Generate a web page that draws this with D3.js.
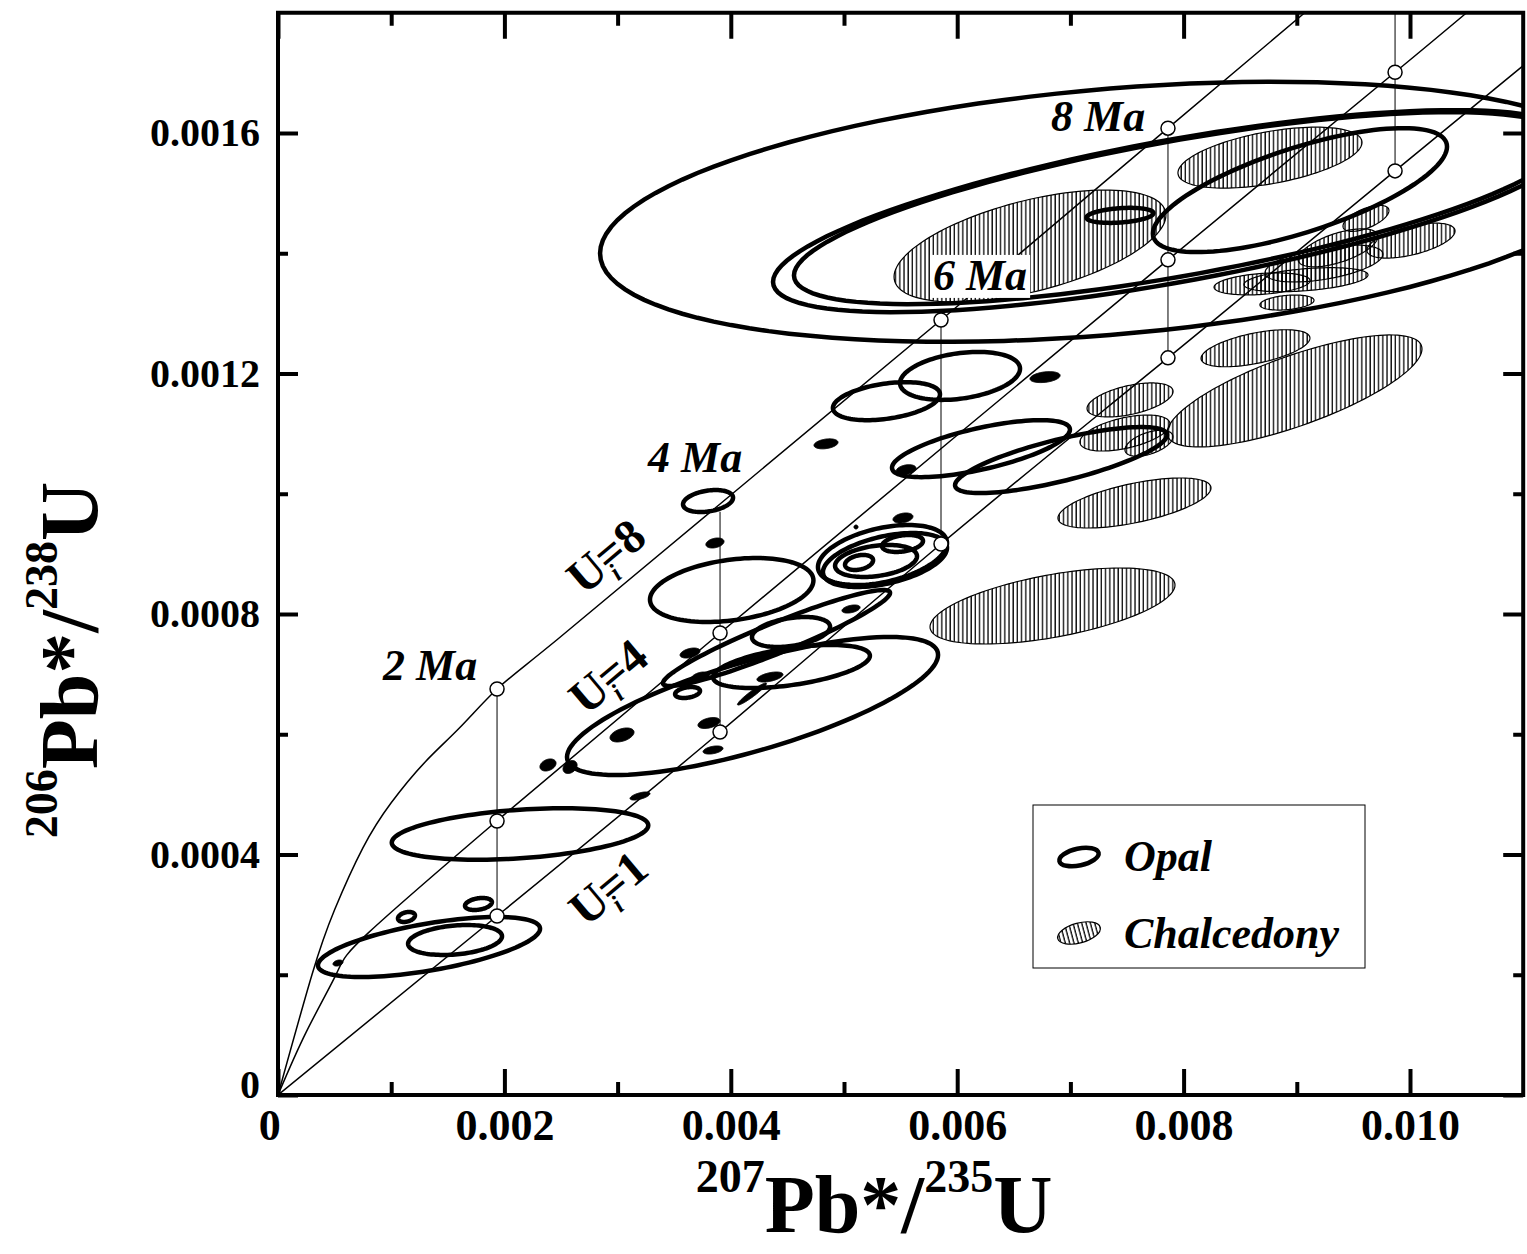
<!DOCTYPE html>
<html lang="en">
<head>
<meta charset="UTF-8">
<title>Pb*/U concordia - opal and chalcedony</title>
<script src="https://cdn.jsdelivr.net/npm/d3@7"></script>
<style>
    body { margin: 0; background: #fff; }
    svg { display: block; font-family: "Liberation Serif", "Times New Roman", serif; font-weight: bold; }
    .frame { fill: none; stroke: #000; stroke-width: 4; }
    .ui-line { fill: none; stroke: #000; stroke-width: 1.5; }
    .age-line { stroke: #000; stroke-width: 1; }
    .opal { fill: none; stroke: #000; stroke-width: 4.5; }
    .dot { fill: #000; stroke: #000; stroke-width: 1; }
    .chalc { fill: url(#hatch); stroke: #000; stroke-width: 1.2; }
    .marker { fill: #fff; stroke: #000; stroke-width: 1.5; }
    .lab { font-style: italic; font-size: 44px; }
</style>
</head>
<body>
<script>
    const width = 1527;
    const height = 1254;

    // tick values and their labels
    const xMajor = [0, 0.002, 0.004, 0.006, 0.008, 0.010];
    const xTickLabels = ["0", "0.002", "0.004", "0.006", "0.008", "0.010"];
    const xMinor = [0.001, 0.003, 0.005, 0.007, 0.009];
    const yMajor = [0, 0.0004, 0.0008, 0.0012, 0.0016];
    const yTickLabels = ["0", "0.0004", "0.0008", "0.0012", "0.0016"];
    const yMinor = [0.0002, 0.0006, 0.0010, 0.0014];

    // growth curves for initial (234U/238U) = 8, 4 and 1
    const u8X = [0, 0.30e-3, 0.50e-3, 0.75e-3, 1.0e-3, 1.3e-3, 1.6e-3, 1.935e-3, 2.462e-3, 3.905e-3, 5.857e-3, 7.862e-3, 9.07e-3];
    const u8Y = [0, 2.0e-4, 3.08e-4, 4.11e-4, 4.86e-4, 5.54e-4, 6.10e-4, 6.753e-4, 7.568e-4, 9.83e-4, 1.289e-3, 1.608e-3, 1.80e-3];
    const u4X = [0, 0.25e-3, 0.518e-3, 0.80e-3, 1.932e-3, 3.905e-3, 7.862e-3, 9.868e-3, 10.5e-3];
    const u4Y = [0, 1.05e-4, 2.024e-4, 2.70e-4, 4.557e-4, 7.684e-4, 1.389e-3, 1.701e-3, 1.80e-3];
    const u1X = [0, 1.935e-3, 3.905e-3, 5.857e-3, 7.862e-3, 9.868e-3, 11.0e-3];
    const u1Y = [0, 2.977e-4, 6.037e-4, 9.164e-4, 1.226e-3, 1.537e-3, 1.712e-3];

    // age marks (Ma) on the curves; null = hidden or off the plot
    const ages = [2, 4, 6, 8, 10];
    const ageX = [1.935e-3, 3.905e-3, 5.857e-3, 7.862e-3, 9.868e-3];
    const markU8 = [6.753e-4, null, 1.289e-3, 1.608e-3, null];
    const markU4 = [4.557e-4, 7.684e-4, null, 1.389e-3, 1.701e-3];
    const markU1 = [2.977e-4, 6.037e-4, 9.164e-4, 1.226e-3, 1.537e-3];
    const tieTop = [6.753e-4, 9.70e-4, 1.289e-3, 1.608e-3, 1.80e-3];

    // error ellipses: [207/235 centre, 206/238 centre, half-width x, half-height y, correlation]
    const opal = [
        [7.350e-3, 1.469e-3, 4.505e-3, 2.162e-4, 0.32],
        [7.915e-3, 1.470e-3, 3.542e-3, 1.680e-4, 0.70],
        [7.968e-3, 1.475e-3, 3.410e-3, 1.597e-4, 0.70],
        [9.028e-3, 1.505e-3, 1.299e-3, 1.031e-4, 0.70],
        [7.438e-3, 1.463e-3, 0.296e-3, 0.125e-4, 0.30],
        [6.025e-3, 1.196e-3, 0.530e-3, 0.399e-4, 0.30],
        [5.375e-3, 1.154e-3, 0.473e-3, 0.316e-4, 0.36],
        [6.210e-3, 1.075e-3, 0.786e-3, 0.474e-4, 0.67],
        [6.917e-3, 1.056e-3, 0.936e-3, 0.549e-4, 0.76],
        [3.799e-3, 9.879e-4, 0.221e-3, 0.183e-4, 0.30],
        [5.340e-3, 8.981e-4, 0.570e-3, 0.499e-4, 0.40],
        [5.362e-3, 8.898e-4, 0.548e-3, 0.449e-4, 0.45],
        [5.283e-3, 8.882e-4, 0.362e-3, 0.266e-4, 0.30],
        [5.133e-3, 8.857e-4, 0.124e-3, 0.125e-4, 0.30],
        [5.517e-3, 9.173e-4, 0.181e-3, 0.141e-4, 0.30],
        [4.008e-3, 8.399e-4, 0.722e-3, 0.532e-4, 0.30],
        [4.532e-3, 7.701e-4, 0.345e-3, 0.249e-4, 0.35],
        [4.536e-3, 7.127e-4, 0.693e-3, 0.358e-4, 0.50],
        [4.404e-3, 7.601e-4, 1.003e-3, 0.798e-4, 0.94],
        [4.192e-3, 6.470e-4, 1.639e-3, 1.148e-4, 0.74],
        [2.138e-3, 4.341e-4, 1.133e-3, 0.429e-4, 0.335],
        [1.334e-3, 2.462e-4, 0.981e-3, 0.499e-4, 0.61],
        [1.564e-3, 2.578e-4, 0.415e-3, 0.249e-4, 0.25],
        [1.771e-3, 3.177e-4, 0.119e-3, 0.100e-4, 0.30],
        [1.135e-3, 2.961e-4, 0.075e-3, 0.083e-4, 0.30],
        [3.618e-3, 6.694e-4, 0.110e-3, 0.091e-4, 0.30]
    ];
    // very small opal ellipses, drawn filled
    const opalDots = [
        [0.530e-3, 2.195e-4, 0.044e-3, 0.050e-4, 0.3],
        [2.385e-3, 5.489e-4, 0.071e-3, 0.100e-4, 0.3],
        [2.580e-3, 5.455e-4, 0.062e-3, 0.108e-4, 0.3],
        [3.039e-3, 5.988e-4, 0.106e-3, 0.116e-4, 0.4],
        [3.198e-3, 4.973e-4, 0.088e-3, 0.067e-4, 0.6],
        [3.640e-3, 7.351e-4, 0.088e-3, 0.083e-4, 0.4],
        [3.728e-3, 6.952e-4, 0.080e-3, 0.083e-4, 0.4],
        [4.346e-3, 6.952e-4, 0.115e-3, 0.083e-4, 0.5],
        [4.187e-3, 6.669e-4, 0.128e-3, 0.183e-4, 0.95],
        [3.807e-3, 6.187e-4, 0.097e-3, 0.091e-4, 0.4],
        [3.843e-3, 5.738e-4, 0.088e-3, 0.067e-4, 0.4],
        [3.860e-3, 9.181e-4, 0.080e-3, 0.083e-4, 0.3],
        [5.521e-3, 9.597e-4, 0.088e-3, 0.083e-4, 0.3],
        [5.062e-3, 8.083e-4, 0.080e-3, 0.067e-4, 0.4],
        [4.841e-3, 1.083e-3, 0.106e-3, 0.083e-4, 0.3],
        [6.776e-3, 1.194e-3, 0.133e-3, 0.091e-4, 0.3],
        [5.548e-3, 1.040e-3, 0.088e-3, 0.083e-4, 0.3],
        [5.106e-3, 9.447e-4, 0.018e-3, 0.033e-4, 0.0]
    ];
    const chalcedony = [
        [8.763e-3, 1.559e-3, 0.813e-3, 0.507e-4, 0.50],
        [6.643e-3, 1.412e-3, 1.201e-3, 0.931e-4, 0.55],
        [8.635e-3, 1.242e-3, 0.481e-3, 0.308e-4, 0.55],
        [8.980e-3, 1.171e-3, 1.126e-3, 0.931e-4, 0.75],
        [7.527e-3, 1.156e-3, 0.380e-3, 0.283e-4, 0.50],
        [7.482e-3, 1.101e-3, 0.398e-3, 0.299e-4, 0.50],
        [7.694e-3, 1.084e-3, 0.212e-3, 0.216e-4, 0.50],
        [7.566e-3, 9.846e-4, 0.676e-3, 0.416e-4, 0.60],
        [6.842e-3, 8.133e-4, 1.082e-3, 0.632e-4, 0.55],
        [8.693e-3, 1.349e-3, 0.424e-3, 0.183e-4, 0.30],
        [9.081e-3, 1.356e-3, 0.548e-3, 0.200e-4, 0.40],
        [9.240e-3, 1.383e-3, 0.521e-3, 0.308e-4, 0.50],
        [8.913e-3, 1.318e-3, 0.239e-3, 0.125e-4, 0.30],
        [9.364e-3, 1.409e-3, 0.353e-3, 0.316e-4, 0.60],
        [10.009e-3, 1.421e-3, 0.389e-3, 0.291e-4, 0.55],
        [9.611e-3, 1.458e-3, 0.203e-3, 0.216e-4, 0.60]
    ];

    // text annotations (anchored in data coordinates)
    const ageLabelText = ["2 Ma", "4 Ma", "6 Ma", "8 Ma"];
    const ageLabelX = [0.928e-3, 3.269e-3, 5.786e-3, 6.829e-3];
    const ageLabelY = [6.90e-4, 1.036e-3, 1.339e-3, 1.603e-3];
    const uiNames = ["8", "4", "1"];
    const uiLabelX = [2.700e-3, 2.720e-3, 2.720e-3];
    const uiLabelY = [8.30e-4, 6.30e-4, 2.78e-4];

    const x = d3.scaleLinear().domain([0, 0.011]).range([278, 1523.2]);
    const y = d3.scaleLinear().domain([0, 0.0018]).range([1095, 12.75]);

    const svg = d3.select("body").append("svg")
            .attr("width", width).attr("height", height);

    const defs = svg.append("defs");
    defs.append("clipPath").attr("id", "plot").append("rect")
        .attr("x", x(0)).attr("y", y(0.0018))
        .attr("width", x(0.011) - x(0)).attr("height", y(0) - y(0.0018));
    const hatch = defs.append("pattern").attr("id", "hatch")
        .attr("patternUnits", "userSpaceOnUse").attr("width", 4.2).attr("height", 8);
    hatch.append("line").attr("x1", 1).attr("x2", 1).attr("y1", 0).attr("y2", 8)
        .attr("stroke", "#000").attr("stroke-width", 1.3);

    const plot = svg.append("g").attr("clip-path", "url(#plot)");

    // Ui curves
    const curve = d3.line().x(d => x(d[0])).y(d => y(d[1])).curve(d3.curveNatural);
    [[u8X, u8Y], [u4X, u4Y], [u1X, u1Y]].forEach(([xs, ys]) => {
        plot.append("path").attr("class", "ui-line").attr("d", curve(d3.zip(xs, ys)));
    });

    // ellipse outline from centre, half-extents and correlation
    const ring = d3.line().x(d => x(d[0])).y(d => y(d[1])).curve(d3.curveLinearClosed);
    function outline([cx, cy, hx, hy, r]) {
        const s = Math.sqrt(1 - r * r);
        return d3.range(120).map(i => {
            const t = i / 120 * 2 * Math.PI;
            return [cx + hx * Math.cos(t), cy + hy * (r * Math.cos(t) + s * Math.sin(t))];
        });
    }

    plot.selectAll("path.chalc").data(chalcedony).join("path")
        .attr("class", "chalc").attr("d", d => ring(outline(d)));
    plot.selectAll("path.opal").data(opal).join("path")
        .attr("class", "opal").attr("d", d => ring(outline(d)));
    plot.selectAll("path.dot").data(opalDots).join("path")
        .attr("class", "dot").attr("d", d => ring(outline(d)));

    // tie lines joining the same age on the three curves
    plot.selectAll("line.age-line").data(ages).join("line")
        .attr("class", "age-line")
        .attr("x1", (d, i) => x(ageX[i])).attr("x2", (d, i) => x(ageX[i]))
        .attr("y1", (d, i) => y(tieTop[i])).attr("y2", (d, i) => y(markU1[i]));

    const marks = [];
    ages.forEach((a, i) => {
        [markU8, markU4, markU1].forEach(arr => { if (arr[i] != null) marks.push([ageX[i], arr[i]]); });
    });
    plot.selectAll("circle.marker").data(marks).join("circle")
        .attr("class", "marker").attr("cx", d => x(d[0])).attr("cy", d => y(d[1])).attr("r", 7);

    // age labels
    ageLabelText.forEach((t, i) => {
        const txt = svg.append("text").attr("class", "lab")
            .attr("x", x(ageLabelX[i])).attr("y", y(ageLabelY[i])).text(t);
        if (t === "6 Ma") {
            const b = txt.node().getBBox();
            svg.insert("rect", () => txt.node())
                .attr("x", b.x - 3).attr("y", b.y + 4).attr("width", b.width + 6).attr("height", b.height - 6)
                .attr("fill", "#fff");
        }
    });

    // Ui labels along the curves
    uiNames.forEach((n, i) => {
        const t = svg.append("text")
            .attr("transform", `translate(${x(uiLabelX[i])},${y(uiLabelY[i])}) rotate(-40)`)
            .attr("font-size", 48);
        t.append("tspan").text("U");
        t.append("tspan").attr("font-size", 26).attr("font-style", "italic").attr("dy", 11).attr("dx", 1).text("i");
        t.append("tspan").attr("dy", -11).attr("dx", -9).text("=" + n);
    });

    // axes: ticks pointing inward on all four sides
    function styleAxis(g) {
        g.select(".domain").remove();
        g.selectAll(".tick line").attr("stroke-width", 4);
    }
    svg.append("g").attr("transform", `translate(0,${y(0)})`)
        .call(d3.axisBottom(x).tickValues(xMajor).tickSize(-26).tickPadding(14)
            .tickFormat((d, i) => xTickLabels[i]))
        .call(styleAxis)
        .attr("font-family", null).attr("font-size", 44);
    svg.append("g").attr("transform", `translate(0,${y(0)})`)
        .call(d3.axisBottom(x).tickValues(xMinor).tickSize(-13).tickFormat(""))
        .call(styleAxis);
    svg.append("g").attr("transform", `translate(0,${y(0.0018)})`)
        .call(d3.axisTop(x).tickValues(xMajor).tickSize(-26).tickFormat(""))
        .call(styleAxis);
    svg.append("g").attr("transform", `translate(0,${y(0.0018)})`)
        .call(d3.axisTop(x).tickValues(xMinor).tickSize(-13).tickFormat(""))
        .call(styleAxis);
    svg.append("g").attr("transform", `translate(${x(0)},0)`)
        .call(d3.axisLeft(y).tickValues(yMajor).tickSize(-20).tickPadding(18)
            .tickFormat((d, i) => yTickLabels[i]))
        .call(styleAxis)
        .attr("font-family", null).attr("font-size", 40);
    svg.append("g").attr("transform", `translate(${x(0)},0)`)
        .call(d3.axisLeft(y).tickValues(yMinor).tickSize(-10).tickFormat(""))
        .call(styleAxis);
    svg.append("g").attr("transform", `translate(${x(0.011)},0)`)
        .call(d3.axisRight(y).tickValues(yMajor).tickSize(-20).tickFormat(""))
        .call(styleAxis);
    svg.append("g").attr("transform", `translate(${x(0.011)},0)`)
        .call(d3.axisRight(y).tickValues(yMinor).tickSize(-10).tickFormat(""))
        .call(styleAxis);
    svg.selectAll(".tick text").attr("fill", "#000");
    // nudge the two "0" labels off the corner
    svg.selectAll(".tick text").filter(function() { return this.textContent === "0"; })
        .each(function() {
            const t = d3.select(this);
            if (t.attr("x") !== null && +t.attr("x") < 0) t.attr("dy", "0.05em");
            else t.attr("dx", "-0.2em");
        });

    svg.append("rect").attr("class", "frame")
        .attr("x", x(0)).attr("y", y(0.0018))
        .attr("width", x(0.011) - x(0)).attr("height", y(0) - y(0.0018));

    // axis titles
    function title(g, parts) {
        parts.forEach(([txt, sup]) => {
            g.append("tspan").attr("font-size", sup ? 46 : 82)
                .attr("dy", sup ? -40 : 40).text(txt);
        });
    }
    const xt = svg.append("text").attr("x", 874).attr("y", 1232).attr("text-anchor", "middle");
    title(xt, [["207", true], ["Pb*/", false], ["235", true], ["U", false]]);
    const yt = svg.append("text").attr("text-anchor", "middle")
        .attr("transform", "translate(97,660) rotate(-90)");
    title(yt, [["206", true], ["Pb*/", false], ["238", true], ["U", false]]);

    // legend
    const lg = svg.append("g");
    lg.append("rect").attr("x", 1033).attr("y", 805).attr("width", 332).attr("height", 163)
        .attr("fill", "#fff").attr("stroke", "#000").attr("stroke-width", 1);
    lg.append("ellipse").attr("class", "opal").attr("rx", 20).attr("ry", 8.5)
        .attr("transform", "translate(1079,857) rotate(-12)");
    lg.append("ellipse").attr("class", "chalc").attr("rx", 22).attr("ry", 10)
        .attr("transform", "translate(1079,933) rotate(-15)");
    lg.append("text").attr("class", "lab").attr("x", 1124).attr("y", 871).text("Opal");
    lg.append("text").attr("class", "lab").attr("x", 1124).attr("y", 948).text("Chalcedony");
</script>
</body>
</html>
